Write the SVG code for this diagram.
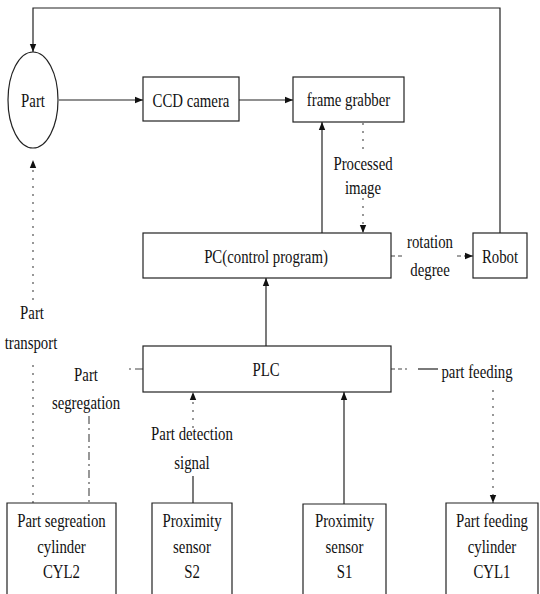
<svg xmlns="http://www.w3.org/2000/svg" width="540" height="594" viewBox="0 0 540 594">
<defs>
<marker id="ah" viewBox="0 0 10 10" refX="10" refY="5" markerWidth="8" markerHeight="8" markerUnits="userSpaceOnUse" orient="auto">
<path d="M0,1 L10,5 L0,9 Z" fill="#111"/>
</marker>
</defs>
<style>
.box{fill:#fff;stroke:#222;stroke-width:1.2}
.ln{fill:none;stroke:#222;stroke-width:1.2}
.dot{fill:none;stroke:#444;stroke-width:1.1;stroke-dasharray:2 6}
.dash{fill:none;stroke:#444;stroke-width:1.1;stroke-dasharray:4 3}
.dd{fill:none;stroke:#444;stroke-width:1.1;stroke-dasharray:8 4 2 4}
text{font-family:"Liberation Serif","Times New Roman",serif;font-size:19px;fill:#111;text-anchor:middle}
</style>
<g id="connectors">
<path class="ln" d="M500,233 V8 H33 V52" marker-end="url(#ah)"/>
<path class="ln" d="M59,100 H143" marker-end="url(#ah)"/>
<path class="ln" d="M239,100 H293" marker-end="url(#ah)"/>
<path class="ln" d="M322,233 V122" marker-end="url(#ah)"/>
<path class="dot" d="M363,123 V150"/>
<path class="dot" d="M363,198 V233" marker-end="url(#ah)"/>
<path class="ln" d="M266,346 V278" marker-end="url(#ah)"/>
<path class="dash" d="M391,256 H403"/>
<path class="dash" d="M457,256 H473" marker-end="url(#ah)"/>
<path class="ln" d="M344,504 V392" marker-end="url(#ah)"/>
<path class="ln" d="M193,503 V476"/>
<path class="dot" d="M193,428 V392" marker-end="url(#ah)"/>
<path class="dot" d="M33,503 V362"/>
<path class="dot" d="M33,300 V160" marker-end="url(#ah)"/>
<path class="dd" d="M143,369 H127"/>
<path class="dd" d="M89,416 V503"/>
<path class="dash" d="M391,369 H407"/>
<path class="ln" d="M418,369 H438"/>
<path class="dot" d="M493,390 V503" marker-end="url(#ah)"/>
<text transform="translate(363,170) scale(0.78,1)">Processed</text>
<text transform="translate(363,194) scale(0.78,1)">image</text>
<text transform="translate(430,248) scale(0.78,1)">rotation</text>
<text transform="translate(430,276) scale(0.78,1)">degree</text>
<text transform="translate(32,319) scale(0.78,1)">Part</text>
<text transform="translate(31,349) scale(0.78,1)">transport</text>
<text transform="translate(86,381) scale(0.78,1)">Part</text>
<text transform="translate(86,409) scale(0.78,1)">segregation</text>
<text transform="translate(192,440) scale(0.78,1)">Part detection</text>
<text transform="translate(192,469) scale(0.78,1)">signal</text>
<text transform="translate(477,378) scale(0.78,1)">part feeding</text>
</g>
<g id="part">
<ellipse class="box" cx="33" cy="100" rx="25" ry="48"/>
<text transform="translate(33,107) scale(0.78,1)">Part</text>
</g>
<g id="ccd">
<rect class="box" x="143" y="77" width="96" height="44"/>
<text transform="translate(191,107) scale(0.78,1)">CCD camera</text>
</g>
<g id="grabber">
<rect class="box" x="293" y="77" width="111" height="45"/>
<text transform="translate(348.5,106) scale(0.78,1)">frame grabber</text>
</g>
<g id="pc">
<rect class="box" x="143" y="233" width="248" height="45"/>
<text transform="translate(266,263) scale(0.78,1)">PC(control program)</text>
</g>
<g id="robot">
<rect class="box" x="473" y="233" width="54" height="45"/>
<text transform="translate(500,263) scale(0.78,1)">Robot</text>
</g>
<g id="plc">
<rect class="box" x="143" y="346" width="248" height="46"/>
<text transform="translate(266,376) scale(0.78,1)">PLC</text>
</g>
<g id="cyl2">
<path class="box" d="M7,594 V503 H116 V594"/>
<text transform="translate(61.5,527) scale(0.78,1)">Part segreation</text>
<text transform="translate(61.5,553) scale(0.78,1)">cylinder</text>
<text transform="translate(61.5,578) scale(0.78,1)">CYL2</text>
</g>
<g id="s2">
<path class="box" d="M152,594 V503 H232 V594"/>
<text transform="translate(192,527) scale(0.78,1)">Proximity</text>
<text transform="translate(192,553) scale(0.78,1)">sensor</text>
<text transform="translate(192,578) scale(0.78,1)">S2</text>
</g>
<g id="s1">
<path class="box" d="M303,594 V504 H386 V594"/>
<text transform="translate(344.5,527) scale(0.78,1)">Proximity</text>
<text transform="translate(344.5,553) scale(0.78,1)">sensor</text>
<text transform="translate(344.5,578) scale(0.78,1)">S1</text>
</g>
<g id="cyl1">
<path class="box" d="M446,594 V503 H538 V594"/>
<text transform="translate(492,527) scale(0.78,1)">Part feeding</text>
<text transform="translate(492,553) scale(0.78,1)">cylinder</text>
<text transform="translate(492,578) scale(0.78,1)">CYL1</text>
</g>
</svg>
